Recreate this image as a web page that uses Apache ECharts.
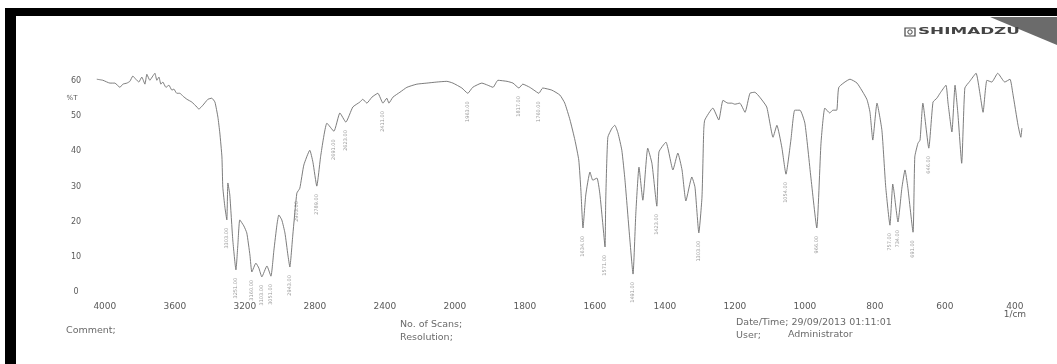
<!DOCTYPE html>
<html>
<head>
<meta charset="utf-8">
<title>FTIR spectrum</title>
<script src="https://cdn.jsdelivr.net/npm/echarts@6/dist/echarts.min.js"></script>
<style>
  html, body { margin: 0; padding: 0; background: #ffffff; }
  #chart { width: 1057px; height: 364px; }
</style>
</head>
<body>
<div id="chart"></div>
<script>
// Wavenumber (1/cm) and transmittance (%T) of the recorded spectrum
const wavenumber = [
  4046, 4011, 3971, 3943, 3914, 3897, 3874, 3857, 3840, 3823, 3806, 3789, 3771, 3760, 3743, 3726,
  3714, 3703, 3691, 3680, 3669, 3651, 3634, 3617, 3606, 3589, 3571, 3554, 3531, 3503, 3474, 3463,
  3440, 3411, 3389, 3371, 3354, 3343, 3331, 3326, 3314, 3303, 3297, 3286, 3269, 3251, 3240, 3229,
  3206, 3189, 3171, 3160, 3137, 3120, 3103, 3074, 3051, 3034, 3017, 3006, 2989, 2971, 2954, 2943,
  2926, 2903, 2886, 2863, 2829, 2811, 2789, 2766, 2731, 2691, 2657, 2623, 2583, 2543, 2526, 2503,
  2474, 2440, 2411, 2389, 2377, 2354, 2314, 2274, 2217, 2160, 2103, 2046, 2011,
  1980, 1963, 1949, 1923, 1906, 1891, 1877, 1851, 1834, 1817, 1806, 1786, 1774, 1760, 1749, 1723,
  1700, 1686, 1671, 1657, 1646, 1640, 1634, 1626, 1614, 1606, 1594, 1586, 1577, 1571, 1569, 1563,
  1551, 1543, 1534, 1523, 1514, 1500, 1491, 1483, 1474, 1463, 1449, 1437, 1423, 1417, 1397, 1377,
  1363, 1351, 1340, 1323, 1314, 1303, 1294, 1289, 1286, 1263, 1246, 1234, 1220, 1209, 1200, 1186,
  1171, 1157, 1143, 1129, 1109, 1091, 1080, 1066, 1054, 1040, 1029, 1014, 1000, 983, 966, 954,
  943, 929, 920, 909, 903, 871, 851, 823, 814, 806, 794, 780, 769, 757, 749, 746,
  734, 723, 714, 706, 691, 686, 677, 671, 663, 646, 634, 623, 614, 597, 591, 580,
  571, 563, 552, 543, 529, 511, 500, 491, 480, 466, 449, 429, 414, 406, 391, 383, 380
];
const transmittance = [
  60.5, 60.2, 59.4, 59.4, 58.2, 59.1, 59.4, 59.9, 61.4, 60.5, 59.7, 61.1, 59.1, 61.9, 60.2, 61.4,
  62.2, 60.2, 61.1, 59.1, 59.7, 58.2, 58.8, 57.4, 57.7, 56.5, 56.5, 55.7, 54.8, 54.0, 52.6, 52.0,
  53.1, 54.8, 55.1, 54.0, 49.7, 45.2, 38.4, 29.8, 24.1, 20.5, 31.0, 27.6, 14.8, 6.3, 13.4, 20.5,
  18.8, 16.8, 10.5, 5.7, 8.2, 6.8, 4.3, 7.4, 4.5, 11.9, 19.0, 21.9, 20.5, 16.8, 10.5, 7.1,
  16.2, 28.1, 29.5, 36.1, 40.3, 36.9, 30.1, 38.9, 48.0, 45.7, 50.9, 48.3, 52.6, 54.0, 54.8, 53.7,
  55.4, 56.5, 53.7, 55.1, 53.7, 55.4, 56.8, 58.2, 59.1, 59.4, 59.7, 59.9, 59.4,
  58.0, 56.5, 58.2, 59.4, 58.8, 58.2, 60.2, 59.9, 59.4, 58.0, 59.1, 58.2, 57.4, 56.5, 58.0, 57.4,
  56.0, 53.7, 48.9, 43.2, 37.5, 29.0, 18.2, 27.6, 34.1, 31.8, 32.4, 28.1, 19.0, 12.8, 26.1, 44.0,
  46.6, 47.4, 45.2, 40.3, 31.8, 14.8, 5.1, 22.4, 35.5, 26.1, 40.9, 36.6, 24.4, 39.8, 42.6, 34.7,
  39.5, 34.7, 25.9, 32.7, 29.8, 16.8, 27.0, 46.0, 48.9, 52.3, 48.9, 54.5, 53.7, 53.7, 53.4, 53.7,
  51.1, 56.5, 56.8, 55.4, 52.6, 44.0, 47.4, 41.2, 33.5, 43.2, 51.7, 51.7, 48.0, 32.7, 18.2, 42.3,
  52.3, 50.9, 51.7, 51.7, 58.2, 60.5, 59.4, 54.8, 51.1, 43.2, 53.7, 46.0, 29.8, 19.0, 30.7, 29.0,
  19.9, 29.5, 34.7, 29.8, 17.0, 38.4, 42.3, 43.2, 53.7, 40.9, 54.0, 55.1, 56.5, 58.8, 53.7, 45.5,
  58.8, 50.9, 36.6, 58.0, 59.9, 62.2, 56.5, 51.1, 60.2, 59.7, 62.2, 59.7, 60.5, 56.5, 47.4, 44.0, 46.6
];
// Band positions annotated under the absorptions
const peakWavenumbers = [
  3303, 3251, 3160, 3103, 3051, 2943, 2903, 2789, 2691, 2623, 2411,
  1963, 1817, 1760, 1634, 1571, 1491, 1423, 1303, 1054, 966, 757, 734, 691, 646
];
const xTickLabels = [4000, 3600, 3200, 2800, 2400, 2000, 1800, 1600, 1400, 1200, 1000, 800, 600, 400];
const yTickLabels = [0, 10, 20, 30, 40, 50, 60];

// Abscissa: the 4000-2000 1/cm range is drawn at half the scale of 2000-400 1/cm
function toAxis(wn) { return wn > 2000 ? 2000 + (wn - 2000) / 2 : wn; }
function fromAxis(v) { return v > 2000 ? 2000 + (v - 2000) * 2 : v; }

const spectrum = wavenumber.map((w, i) => [toAxis(w), transmittance[i]]);
const peaks = peakWavenumbers.map(w => {
  const i = wavenumber.indexOf(w);
  return [toAxis(w), transmittance[i], w];
});

const textColor = '#5a5a5a';
const footColor = '#6a6a6a';
const chart = echarts.init(document.getElementById('chart'), null, { renderer: 'canvas' });

chart.setOption({
  backgroundColor: '#ffffff',
  animation: false,
  grid: { left: 94, right: 33, top: 63.4, bottom: 72, containLabel: false },
  xAxis: {
    type: 'value',
    inverse: true,
    min: 374,
    max: 3031,
    axisLine: { show: false },
    axisTick: { show: false },
    splitLine: { show: false },
    axisLabel: {
      customValues: xTickLabels.map(toAxis),
      margin: 11,
      fontFamily: 'DejaVu Sans',
      fontSize: 9,
      color: textColor,
      lineHeight: 8,
      formatter: v => {
        const wn = Math.round(fromAxis(v));
        return wn === 400 ? '{a|400}\n{a|1/cm}' : String(wn);
      },
      rich: { a: { fontFamily: 'DejaVu Sans', fontSize: 9, color: textColor, lineHeight: 8 } }
    }
  },
  yAxis: {
    type: 'value',
    min: 0,
    max: 65,
    axisLine: { show: false },
    axisTick: { show: false },
    splitLine: { show: false },
    axisLabel: {
      customValues: yTickLabels,
      align: 'center',
      margin: 18,
      fontFamily: 'DejaVu Sans',
      fontSize: 8,
      color: textColor
    }
  },
  series: [
    {
      type: 'line',
      data: spectrum,
      symbol: 'none',
      smooth: 0.15,
      lineStyle: { color: '#6e6e6e', width: 0.9 },
      z: 3
    },
    {
      type: 'scatter',
      data: peaks,
      symbolSize: 0,
      silent: true,
      label: {
        show: true,
        position: 'bottom',
        distance: 8,
        rotate: 90,
        align: 'right',
        verticalAlign: 'middle',
        fontFamily: 'DejaVu Sans',
        fontSize: 5,
        color: '#808080',
        formatter: p => p.data[2].toFixed(2)
      },
      z: 2
    }
  ],
  graphic: [
    // scanned page edges
    { type: 'rect', shape: { x: 5, y: 8, width: 1052, height: 8 }, style: { fill: '#000' }, z: 10 },
    { type: 'rect', shape: { x: 5, y: 8, width: 11, height: 356 }, style: { fill: '#000' }, z: 10 },
    { type: 'polygon', shape: { points: [[990, 17], [1057, 17], [1057, 45]] }, style: { fill: '#6b6b6b' }, z: 10 },
    // logo
    { type: 'rect', shape: { x: 905, y: 28, width: 10, height: 8 }, style: { fill: 'none', stroke: '#444', lineWidth: 1.2 }, z: 10 },
    { type: 'circle', shape: { cx: 910, cy: 32, r: 2.2 }, style: { fill: 'none', stroke: '#444', lineWidth: 1 }, z: 10 },
    {
      type: 'text', x: 918, y: 32, scaleX: 2.1, z: 10,
      style: { text: 'SHIMADZU', fontFamily: 'DejaVu Sans', fontWeight: 'bold', fontSize: 8, fill: '#444', verticalAlign: 'middle' }
    },
    // ordinate unit
    { type: 'text', x: 72, y: 98, z: 10, style: { text: '%T', fontFamily: 'DejaVu Sans', fontSize: 7, fill: textColor, align: 'center', verticalAlign: 'middle' } },
    // footer fields
    { type: 'text', x: 66, y: 331, z: 10, style: { text: 'Comment;', fontFamily: 'DejaVu Sans', fontSize: 9.5, fill: footColor, verticalAlign: 'middle' } },
    { type: 'text', x: 400, y: 325, z: 10, style: { text: 'No. of Scans;', fontFamily: 'DejaVu Sans', fontSize: 9.5, fill: footColor, verticalAlign: 'middle' } },
    { type: 'text', x: 400, y: 338, z: 10, style: { text: 'Resolution;', fontFamily: 'DejaVu Sans', fontSize: 9.5, fill: footColor, verticalAlign: 'middle' } },
    { type: 'text', x: 736, y: 323, z: 10, style: { text: 'Date/Time; 29/09/2013 01:11:01', fontFamily: 'DejaVu Sans', fontSize: 9.5, fill: footColor, verticalAlign: 'middle' } },
    { type: 'text', x: 736, y: 336, z: 10, style: { text: 'User;', fontFamily: 'DejaVu Sans', fontSize: 9.5, fill: footColor, verticalAlign: 'middle' } },
    { type: 'text', x: 788, y: 335, z: 10, style: { text: 'Administrator', fontFamily: 'DejaVu Sans', fontSize: 9.5, fill: footColor, verticalAlign: 'middle' } }
  ]
});
</script>
</body>
</html>
